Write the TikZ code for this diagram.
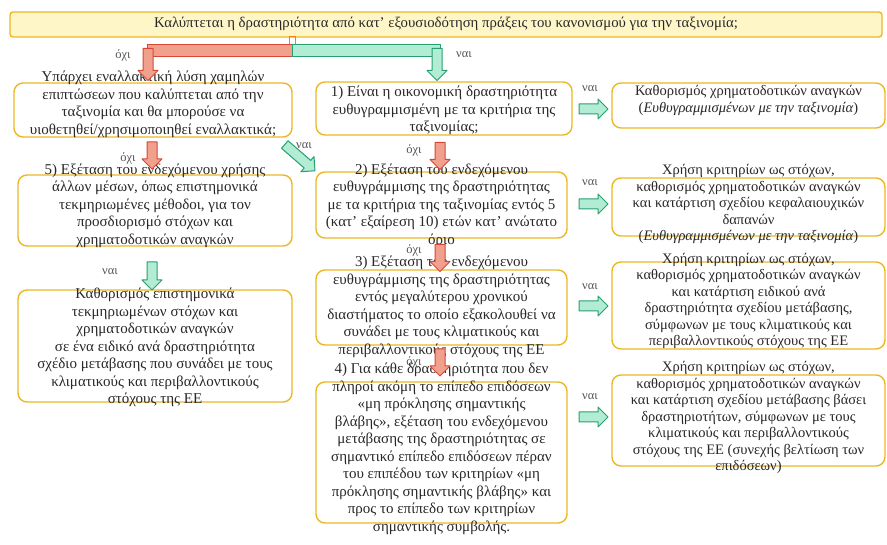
\documentclass[tikz,border=0pt]{standalone}
\usepackage{fontspec}
\setmainfont{Liberation Serif}
\usetikzlibrary{shapes.arrows}
\definecolor{gold}{RGB}{236,183,38}
\definecolor{banner}{RGB}{255,246,200}
\definecolor{redfill}{RGB}{241,160,142}
\definecolor{redline}{RGB}{214,72,52}
\definecolor{grnfill}{RGB}{178,236,212}
\definecolor{grnline}{RGB}{38,160,112}
\definecolor{ink}{RGB}{40,40,40}
\begin{document}
\begin{tikzpicture}[x=1pt,y=-1pt,line join=round,
		box/.style={draw=gold,line width=1.4pt,rounded corners=9pt,fill=white,inner sep=0pt},
		txt/.style={align=center,text=ink,inner sep=0pt,font=\fontsize{15}{17.5}\selectfont},
		rtxt/.style={txt,font=\fontsize{14.5}{16.5}\selectfont},
		lbl/.style={text=ink!80,inner sep=0pt,font=\fontsize{12.5}{14}\selectfont},
		arr/.style={single arrow,line width=1pt,inner sep=4.5pt,
			single arrow head extend=5pt,minimum height=#1},
		noarr/.style={arr=#1,draw=redline,fill=redfill,shape border rotate=270},
		yesarr/.style={arr=#1,draw=grnline,fill=grnfill}]
	\useasboundingbox (0,0) rectangle (887,545);
	% question on top
	\node[box,fill=banner,rounded corners=3pt,minimum width=872pt,minimum height=25pt] (q) at (446,24.5) {};
	\node[txt,font=\fontsize{14.8}{17}\selectfont] (qt) at (446,24) {Καλύπτεται η δραστηριότητα από κατ' εξουσιοδότηση πράξεις του κανονισμού για την ταξινομία;};
	% boxes
	\node[box,minimum width=278pt,minimum height=54pt] (l1) at (153,110) {};
	\node[box,minimum width=274pt,minimum height=71pt] (l2) at (155,210.5) {};
	\node[box,minimum width=274pt,minimum height=112pt] (l3) at (155,346) {};
	\node[box,minimum width=256pt,minimum height=53pt] (m1) at (444,108.5) {};
	\node[box,minimum width=251pt,minimum height=66pt] (m2) at (441.5,205) {};
	\node[box,minimum width=251pt,minimum height=75pt] (m3) at (441.5,307.5) {};
	\node[box,minimum width=251pt,minimum height=141pt] (m4) at (441.5,452.5) {};
	\node[box,minimum width=273pt,minimum height=45pt] (r1) at (748.5,105.5) {};
	\node[box,minimum width=273pt,minimum height=58pt] (r2) at (748.5,207) {};
	\node[box,minimum width=273pt,minimum height=87pt] (r3) at (748.5,305.5) {};
	\node[box,minimum width=273pt,minimum height=91pt] (r4) at (748.5,420.5) {};
	% texts
	\node[txt] (l1t) at (153,104.5) {Υπάρχει εναλλακτική λύση χαμηλών\\ επιπτώσεων που καλύπτεται από την\\ ταξινομία και θα μπορούσε να\\ υιοθετηθεί/χρησιμοποιηθεί εναλλακτικά;};
	\node[txt] (l2t) at (155,205.5) {5) Εξέταση του ενδεχόμενου χρήσης\\ άλλων μέσων, όπως επιστημονικά\\ τεκμηριωμένες μέθοδοι, για τον\\ προσδιορισμό στόχων και\\ χρηματοδοτικών αναγκών};
	\node[txt] (l3t) at (155,347.5) {Καθορισμός επιστημονικά\\ τεκμηριωμένων στόχων και\\ χρηματοδοτικών αναγκών\\ σε ένα ειδικό ανά δραστηριότητα\\ σχέδιο μετάβασης που συνάδει με τους\\ κλιματικούς και περιβαλλοντικούς\\ στόχους της ΕΕ};
	\node[txt] (m1t) at (444,110.5) {1) Είναι η οικονομική δραστηριότητα\\ ευθυγραμμισμένη με τα κριτήρια της\\ ταξινομίας;};
	\node[txt] (m2t) at (441.5,205.5) {2) Εξέταση του ενδεχόμενου\\ ευθυγράμμισης της δραστηριότητας\\ με τα κριτήρια της ταξινομίας εντός 5\\ (κατ' εξαίρεση 10) ετών κατ' ανώτατο\\ όριο};
	\node[txt] (m3t) at (441.5,307) {3) Εξέταση του ενδεχόμενου\\ ευθυγράμμισης της δραστηριότητας\\ εντός μεγαλύτερου χρονικού\\ διαστήματος το οποίο εξακολουθεί να\\ συνάδει με τους κλιματικούς και\\ περιβαλλοντικούς στόχους της ΕΕ};
	\node[txt] (m4t) at (441.5,449) {4) Για κάθε δραστηριότητα που δεν\\ πληροί ακόμη το επίπεδο επιδόσεων\\ «μη πρόκλησης σημαντικής\\ βλάβης», εξέταση του ενδεχόμενου\\ μετάβασης της δραστηριότητας σε\\ σημαντικό επίπεδο επιδόσεων πέραν\\ του επιπέδου των κριτηρίων «μη\\ πρόκλησης σημαντικής βλάβης» και\\ προς το επίπεδο των κριτηρίων\\ σημαντικής συμβολής.};
	\node[rtxt] (r1t) at (748.5,100.5) {Καθορισμός χρηματοδοτικών αναγκών\\ (\textit{Ευθυγραμμισμένων με την ταξινομία})};
	\node[rtxt] (r2t) at (748.5,204) {Χρήση κριτηρίων ως στόχων,\\ καθορισμός χρηματοδοτικών αναγκών\\ και κατάρτιση σχεδίου κεφαλαιουχικών\\ δαπανών\\ (\textit{Ευθυγραμμισμένων με την ταξινομία})};
	\node[rtxt] (r3t) at (748.5,301) {Χρήση κριτηρίων ως στόχων,\\ καθορισμός χρηματοδοτικών αναγκών\\ και κατάρτιση ειδικού ανά\\ δραστηριότητα σχεδίου μετάβασης,\\ σύμφωνων με τους κλιματικούς και\\ περιβαλλοντικούς στόχους της ΕΕ};
	\node[rtxt] (r4t) at (748.5,417.5) {Χρήση κριτηρίων ως στόχων,\\ καθορισμός χρηματοδοτικών αναγκών\\ και κατάρτιση σχεδίου μετάβασης βάσει\\ δραστηριοτήτων, σύμφωνων με τους\\ κλιματικούς και περιβαλλοντικούς\\ στόχους της ΕΕ (συνεχής βελτίωση των\\ επιδόσεων)};
	% split under the question
	\draw[draw=orange,line width=1pt] (289,37) rectangle (295,45);
	\draw[draw=redline,fill=redfill,line width=1pt] (147,45) rectangle (292,57);
	\draw[draw=grnline,fill=grnfill,line width=1pt] (292,45) rectangle (440,57);
	\node[noarr=32pt] (n0) at (148,62) {};
	\node[yesarr=32pt,shape border rotate=270] (y0) at (437,62) {};
	\node[lbl] at (123,55) {όχι};
	\node[lbl] at (464,55) {ναι};
	% left column
	\node[noarr=27pt] (n1) at (152,153) {};
	\node[lbl] at (128,158) {όχι};
	\node[yesarr=40pt,rotate=-41] (y1) at (298,156) {};
	\node[lbl] at (304,146) {ναι};
	\node[yesarr=28pt,shape border rotate=270] (y2) at (152,273.5) {};
	\node[lbl] at (110,272) {ναι};
	% middle column
	\foreach \yy/\ly [count=\i] in {153.5/150,255.5/250,360/362}{
		\node[noarr=27pt] (nm\i) at (440,\yy) {};
		\node[lbl] at (414,\ly) {όχι};}
	% to the right column
	\foreach \yy/\ly [count=\i] in {109/89,204/183,306/287,417/397}{
		\node[yesarr=29pt] (ym\i) at (591,\yy) {};
		\node[lbl] at (590,\ly) {ναι};}
\end{tikzpicture}
\end{document}
